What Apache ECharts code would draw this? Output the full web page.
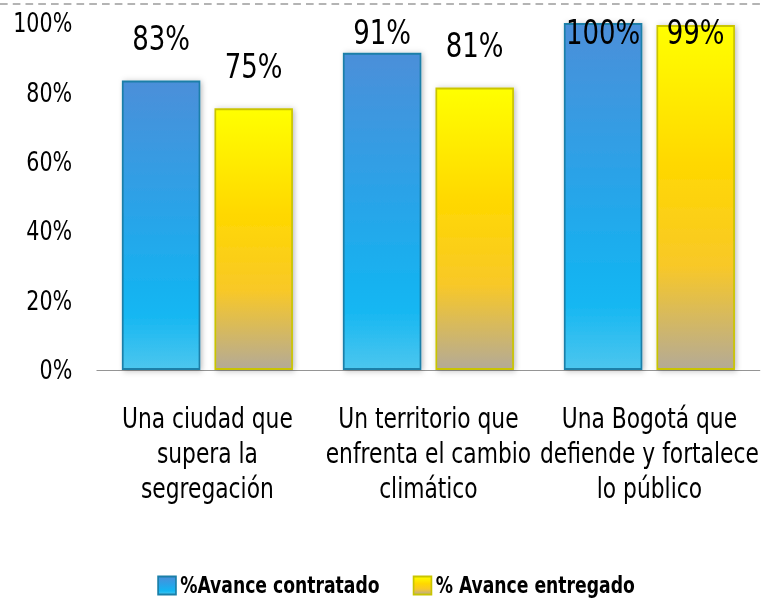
<!DOCTYPE html>
<html>
<head>
    <meta charset="UTF-8">
    <title></title>
    <style>
        html, body { margin: 0; padding: 0; background: #fff; overflow: hidden; }
        /* se comprime en horizontal para imitar la letra estrecha (Calibri) */
        #container { width: 895px; height: 613px; transform: scaleX(0.85); transform-origin: 0 0; }
    </style>
</head>
<body>
    <div id="container"></div>
    <script src="https://cdn.jsdelivr.net/npm/echarts@6/dist/echarts.min.js"></script>
    <script type="text/javascript">
        // datos
        var categorias = [
            'Una ciudad que\nsupera la\nsegregación',
            'Un territorio que\nenfrenta el cambio\nclimático',
            'Una Bogotá que\ndefiende y fortalece\nlo público'
        ];
        var nombres = ['%Avance contratado', '% Avance entregado'];
        var contratado = [0.834, 0.914, 1.0];
        var entregado = [0.754, 0.814, 0.994];
        var ticksY = [0, 0.2, 0.4, 0.6, 0.8, 1.0];

        var fuente = '"DejaVu Sans Condensed", "DejaVu Sans", sans-serif';

        var azul = new echarts.graphic.LinearGradient(0, 0, 0, 1, [
            { offset: 0, color: '#4b8fd9' },
            { offset: 0.45, color: '#2aa3e8' },
            { offset: 0.8, color: '#12b6f2' },
            { offset: 1, color: '#4cc6ee' }
        ]);
        var amarillo = new echarts.graphic.LinearGradient(0, 0, 0, 1, [
            { offset: 0, color: '#ffff00' },
            { offset: 0.4, color: '#ffd800' },
            { offset: 0.7, color: '#f8c828' },
            { offset: 1, color: '#b4aa96' }
        ]);

        function serie(nombre, datos, color, borde) {
            return {
                name: nombre,
                type: 'bar',
                data: datos,
                barGap: '18%',
                barCategoryGap: '22.6%',
                itemStyle: {
                    color: color,
                    borderColor: borde,
                    borderWidth: 2,
                    shadowColor: 'rgba(0,0,0,0.25)',
                    shadowBlur: 6,
                    shadowOffsetX: 2,
                    shadowOffsetY: 1
                },
                label: {
                    show: true,
                    position: 'top',
                    distance: 25,
                    fontFamily: fuente,
                    fontSize: 34,
                    lineHeight: 34,
                    color: '#000',
                    formatter: function (p) {
                        return Math.round(p.value * 100) + '%';
                    }
                },
                labelLayout: function (p) {
                    // Excel mantiene las etiquetas dentro del area
                    return { dy: Math.max(0, 15 - p.labelRect.y) };
                }
            };
        }

        var myChart = echarts.init(document.getElementById('container'), null, { renderer: 'svg' });
        myChart.setOption({
            animation: false,
            textStyle: { fontFamily: fuente },
            grid: { left: 114, right: 1, top: 23, bottom: 243, containLabel: false, outerBoundsMode: 'none' },
            legend: {
                data: nombres,
                bottom: 11,
                left: 180,
                itemWidth: 21,
                itemHeight: 18,
                itemGap: 39,
                icon: 'rect',
                textStyle: { fontFamily: fuente, fontSize: 22.5, fontWeight: 'bold', color: '#000' }
            },
            xAxis: {
                type: 'category',
                data: categorias,
                axisTick: { show: false },
                axisLine: { lineStyle: { color: '#8c8c8c', width: 1 } },
                axisLabel: {
                    fontFamily: fuente,
                    fontSize: 28.5,
                    lineHeight: 35,
                    color: '#000',
                    margin: 30,
                    interval: 0
                }
            },
            yAxis: {
                type: 'value',
                min: ticksY[0],
                max: ticksY[ticksY.length - 1],
                interval: 0.2,
                splitLine: { show: false },
                axisLine: { show: false },
                axisTick: { show: false },
                axisLabel: {
                    fontFamily: fuente,
                    fontSize: 27,
                    color: '#000',
                    margin: 29,
                    formatter: function (v) { return Math.round(v * 100) + '%'; }
                }
            },
            graphic: [{
                type: 'line',
                shape: { x1: 0, y1: 4, x2: 895, y2: 4 },
                style: { stroke: '#b4b4b4', lineWidth: 2, lineDash: [9, 6] }
            }],
            series: [
                serie(nombres[0], contratado, azul, '#1a7fa8'),
                serie(nombres[1], entregado, amarillo, '#c9c400')
            ]
        });
    </script>
</body>
</html>
